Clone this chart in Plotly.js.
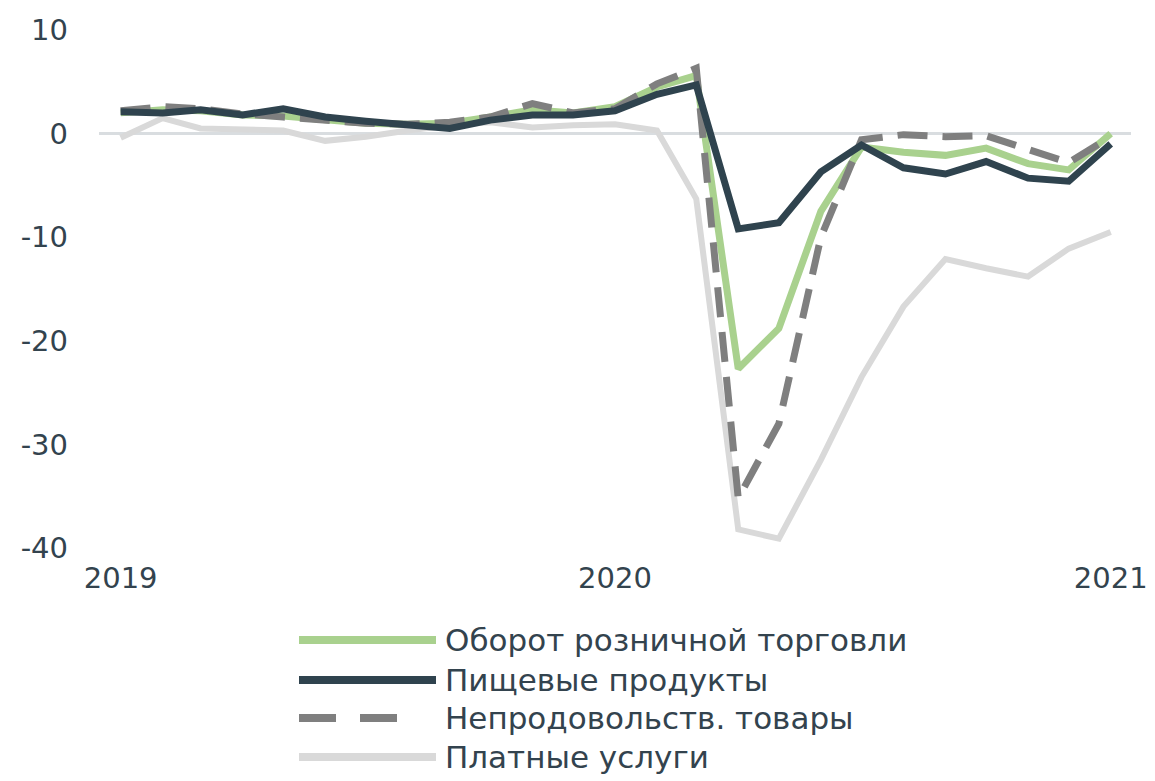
<!DOCTYPE html>
<html>
<head>
<meta charset="utf-8">
<script src="https://cdn.plot.ly/plotly-3.0.1.min.js"></script>
<style>html,body{margin:0;padding:0;background:#fff;}#chart{width:1155px;height:781px;}</style>
</head>
<body>
<div id="chart"></div>
<script>
const months = ['2019-01-01','2019-02-01','2019-03-01','2019-04-01','2019-05-01','2019-06-01','2019-07-01','2019-08-01','2019-09-01','2019-10-01','2019-11-01','2019-12-01',
  '2020-01-01','2020-02-01','2020-03-01','2020-04-01','2020-05-01','2020-06-01','2020-07-01','2020-08-01','2020-09-01','2020-10-01','2020-11-01','2020-12-01','2021-01-01'];
const retail   = [2.0, 2.3, 2.2, 1.8, 1.7, 1.4, 1.0, 0.9, 1.0, 1.6, 2.3, 2.0, 2.6, 4.5, 5.6, -22.7, -18.8, -7.5, -1.3, -1.8, -2.1, -1.4, -2.9, -3.5, 0.0];
const food     = [2.1, 2.0, 2.3, 1.8, 2.4, 1.6, 1.2, 0.8, 0.5, 1.3, 1.8, 1.8, 2.2, 3.8, 4.7, -9.2, -8.6, -3.7, -1.1, -3.3, -3.9, -2.7, -4.3, -4.6, -1.0];
const nonfood  = [2.2, 2.6, 2.4, 1.9, 1.6, 1.3, 1.0, 0.9, 1.1, 1.6, 2.9, 2.0, 2.4, 4.8, 6.3, -35.2, -28.0, -10.0, -0.6, -0.1, -0.3, -0.2, -1.6, -2.8, -0.3];
const services = [-0.4, 1.5, 0.5, 0.4, 0.3, -0.7, -0.3, 0.3, 0.8, 1.1, 0.6, 0.8, 0.9, 0.3, -6.3, -38.2, -39.1, -31.5, -23.5, -16.7, -12.1, -13.0, -13.8, -11.1, -9.5];
const seriesNames = ['Оборот розничной торговли','Пищевые продукты','Непродовольств. товары','Платные услуги'];
const xTickVals = ['2019-01-01','2020-01-01','2021-01-01'];
const xTickText = ['2019','2020','2021'];
const yTickVals = [10, 0, -10, -20, -30, -40];
const yTickText = ['10','0','-10','-20','-30','-40'];

const colors = ['#a9d18e','#2f434e','#7f7f7f','#d9d9d9'];
const dashes = ['solid','solid','30px,15px','solid'];
const widths = [7,7,7,6];
const order = [3,0,2,1]; // draw order: services at back
const dataSets = [retail, food, nonfood, services];

const W = 1155, H = 781;
const M = {l:99, r:24, t:30, b:233};
const pw = W - M.l - M.r, ph = H - M.t - M.b;
const px2x = p => (p - M.l) / pw;
const px2y = p => (H - M.b - p) / ph;

const traces = order.map(i => ({
  x: months, y: dataSets[i], type:'scatter', mode:'lines', name: seriesNames[i],
  line:{color:colors[i], width:widths[i], dash:dashes[i]}, showlegend:false, hoverinfo:'skip'
}));

const fam = 'DejaVu Sans, Verdana, sans-serif';
const font = {family:fam, color:'#33434e', size:29};
const legendRows = [640, 680, 718, 757];
const shapes = [{type:'line', xref:'paper', yref:'y', x0:0, x1:1, y0:0, y1:0, line:{color:'#d9dde0', width:3}, layer:'below'}];
const annotations = [];
seriesNames.forEach((n, i) => {
  shapes.push({type:'line', xref:'paper', yref:'paper', x0:px2x(299), x1:px2x(i===2 ? 400 : 436), y0:px2y(legendRows[i]), y1:px2y(legendRows[i]),
    line:{color:colors[i], width:8, dash: i===2 ? '37px,24px' : 'solid'}});
  annotations.push({xref:'paper', yref:'paper', x:px2x(443), y:px2y(legendRows[i]), xanchor:'left', yanchor:'middle',
    text:n, showarrow:false, font:{family:fam, color:font.color, size:31}});
});

const layout = {
  width:W, height:H, margin:M, paper_bgcolor:'#fff', plot_bgcolor:'#fff', font:font,
  xaxis:{type:'date', range:['2018-12-16','2021-01-16'], tickvals:xTickVals, ticktext:xTickText, showgrid:false, zeroline:false, showline:false, ticks:'', ticklabelstandoff:10, fixedrange:true},
  yaxis:{range:[-40,10], tickvals:yTickVals, ticktext:yTickText, showgrid:false, zeroline:false, showline:false, ticks:'', ticklabelstandoff:30, fixedrange:true},
  shapes:shapes, annotations:annotations, showlegend:false
};
Plotly.newPlot('chart', traces, layout, {staticPlot:true});
</script>
</body>
</html>
